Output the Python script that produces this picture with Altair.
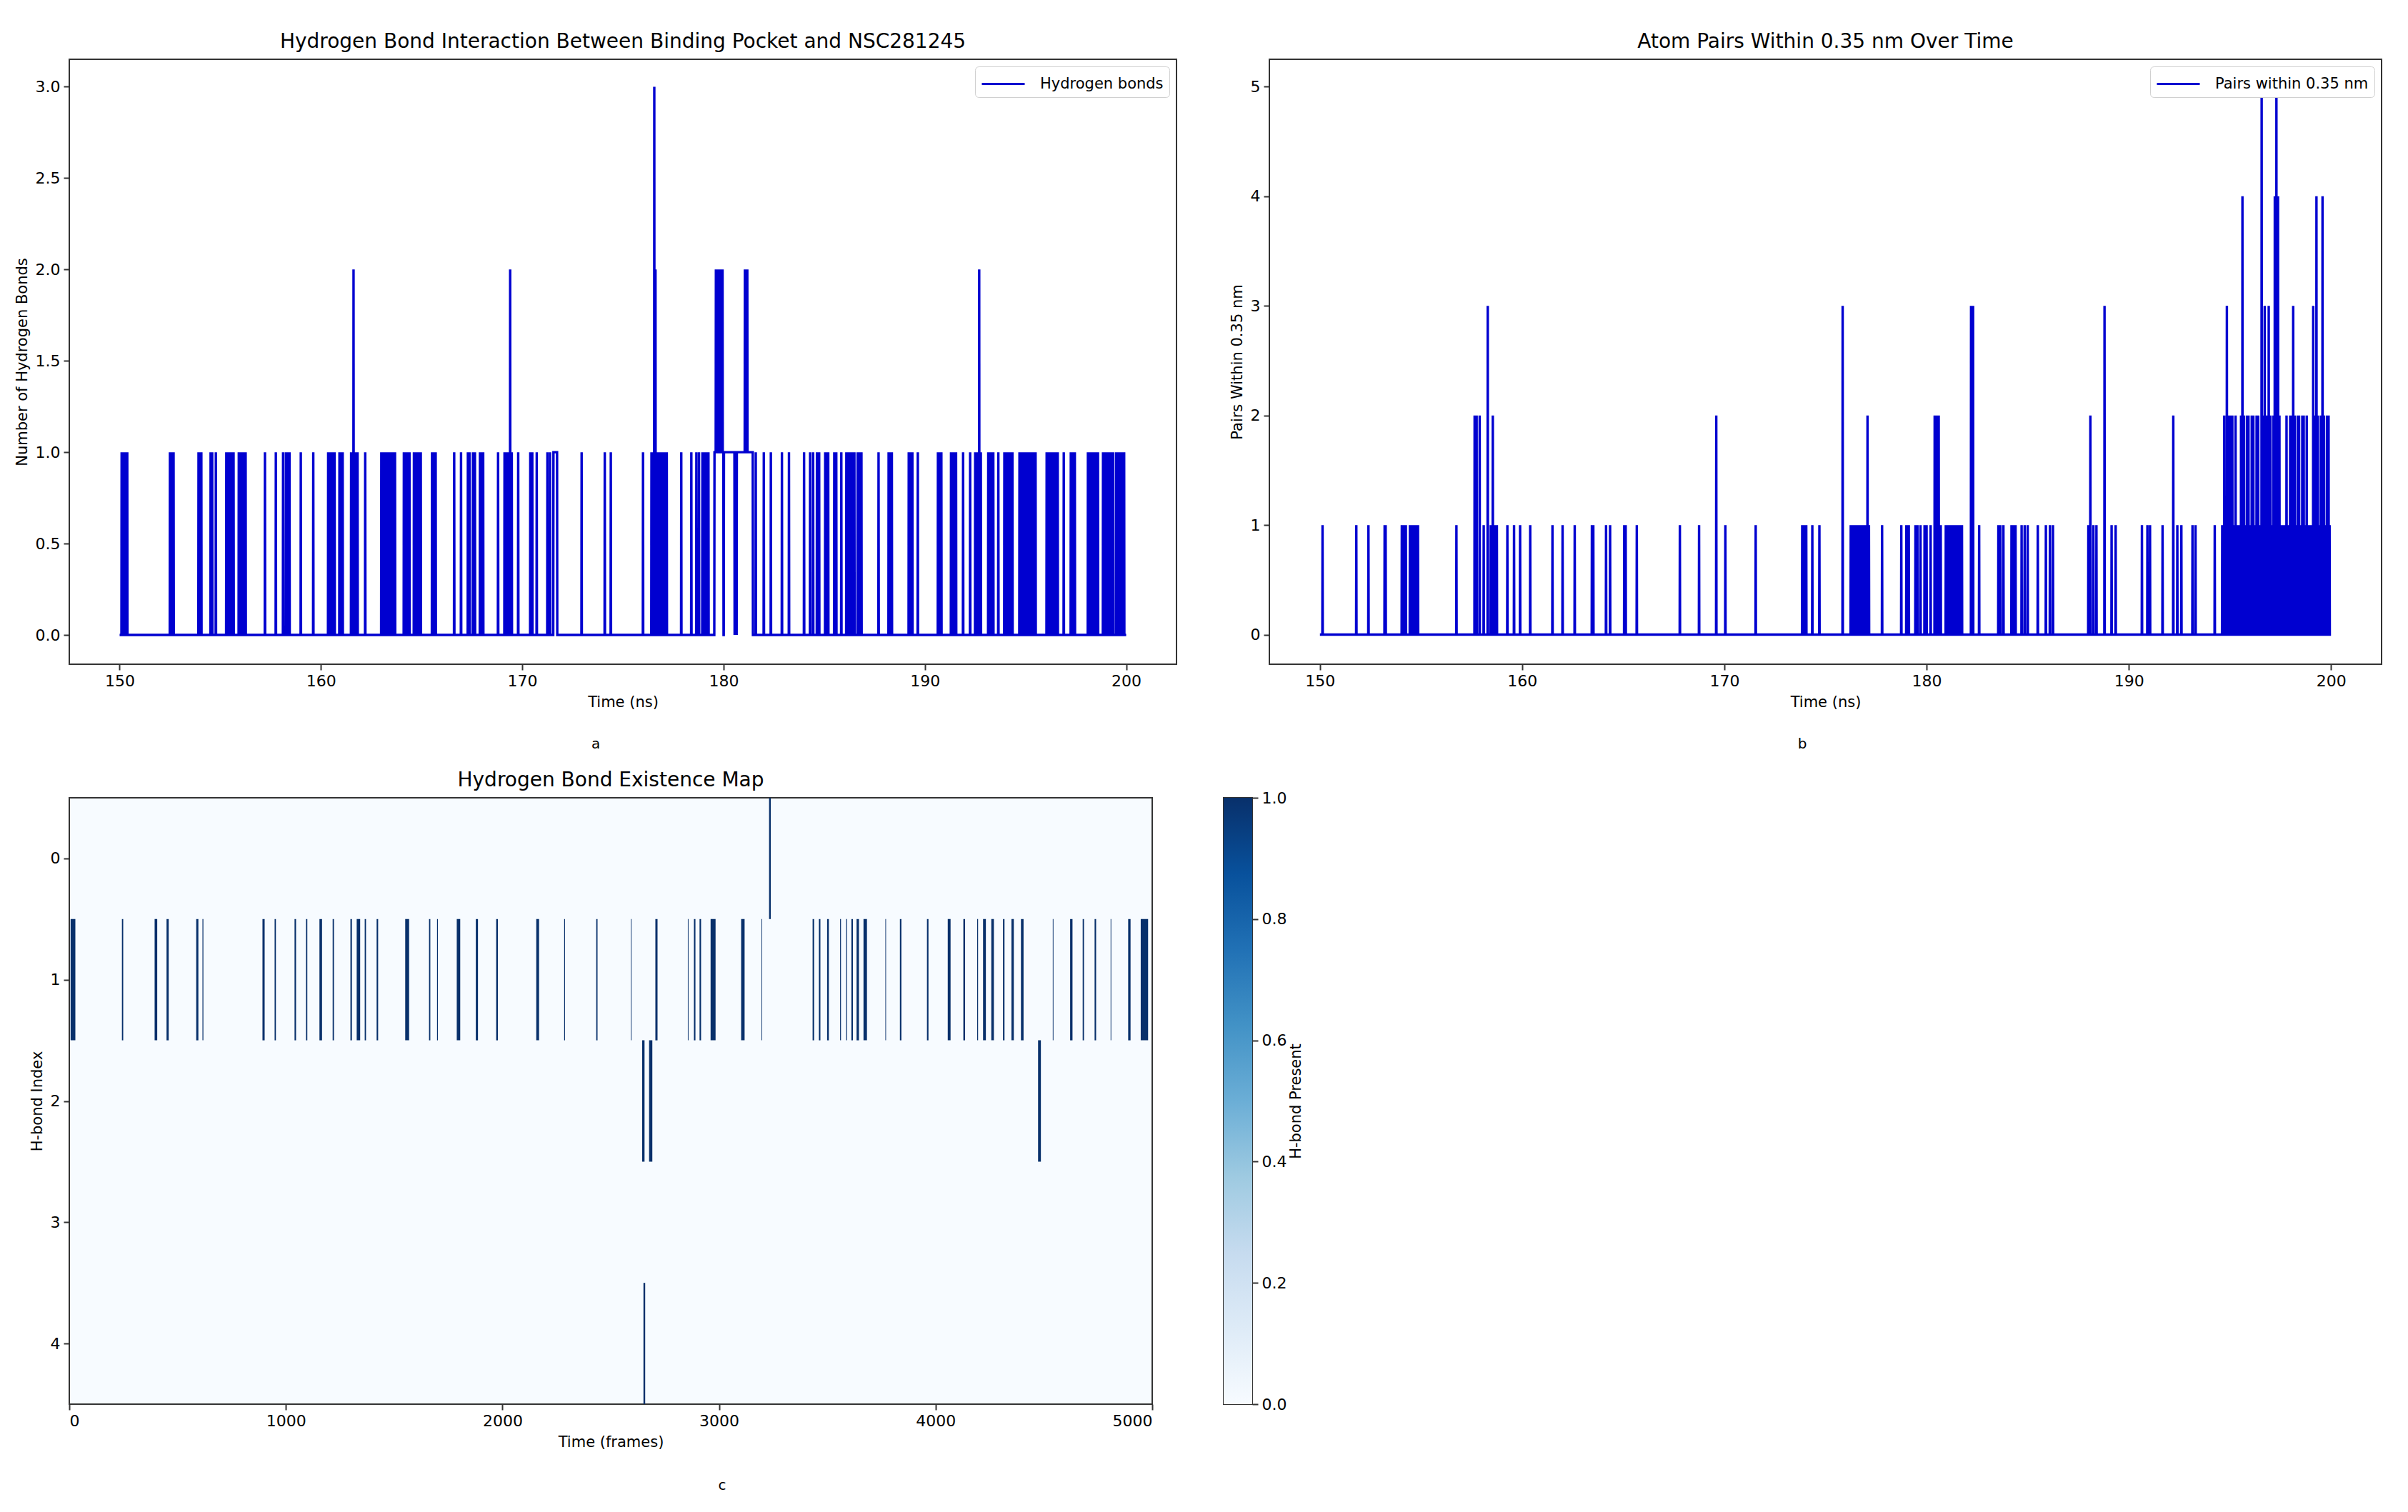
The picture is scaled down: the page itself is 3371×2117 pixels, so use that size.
import altair as alt
import numpy as np
import pandas as pd

alt.data_transformers.disable_max_rows()

FONT = "DejaVu Sans"
BLUE = "#0000d0"

# ---------------- Panel a: hydrogen bonds (ns, count) ----------------
hb_times = [
    150.10, 150.16, 150.22, 150.30, 150.38,
    152.50, 152.58, 152.68,
    153.92, 154.00, 154.06,
    154.52, 154.60, 154.78,
    155.30, 155.37, 155.44, 155.51, 155.58, 155.66,
    155.92, 156.00, 156.08, 156.18, 156.26,
    157.22, 157.76,
    158.12, 158.26, 158.34, 158.44,
    159.00, 159.62,
    160.36, 160.44, 160.52, 160.60, 160.68,
    160.92, 161.00, 161.08,
    161.50, 161.62, 161.70, 161.82,
    162.20,
    163.00, 163.10, 163.20, 163.28, 163.36, 163.44, 163.52, 163.60, 163.68,
    164.12, 164.22, 164.30, 164.40,
    164.62, 164.72, 164.84, 164.96,
    165.52, 165.60, 165.70,
    166.62, 166.96,
    167.30, 167.38, 167.55, 167.65,
    167.90, 167.98, 168.06,
    168.80,
    169.12, 169.22, 169.30, 169.40, 169.48,
    169.80,
    170.40, 170.50, 170.72,
    171.25, 171.38,
    172.95, 174.10, 174.40, 176.00,
    176.42, 176.50, 176.56, 176.62, 176.70, 176.78, 176.86, 176.94, 177.02, 177.10, 177.18,
    177.90, 178.40, 178.65, 178.78,
    178.95, 179.05, 179.15, 179.25,
    179.62, 179.66, 179.70, 179.74, 179.78, 179.82, 179.86, 179.90, 179.95,
    180.00, 180.01,
    180.55, 180.60, 180.65,
    181.06, 181.12, 181.18,
    181.60, 182.00, 182.35, 182.90, 183.25, 184.00,
    184.30, 184.45, 184.64, 184.75,
    185.05, 185.12, 185.20, 185.50, 185.60, 185.85,
    186.10, 186.18, 186.26, 186.34, 186.42, 186.50,
    186.66, 186.76, 186.85,
    187.70, 188.20, 188.28, 188.36,
    189.20, 189.28, 189.38, 189.65,
    190.65, 190.72, 190.82,
    191.30, 191.38, 191.46, 191.55,
    191.90, 192.25,
    192.50, 192.58, 192.70, 192.78,
    193.15, 193.22, 193.30, 193.40, 193.65,
    193.95, 194.05, 194.15, 194.25, 194.35,
    194.70, 194.78, 194.86, 194.94, 195.02, 195.10, 195.18, 195.26, 195.34, 195.42, 195.50,
    196.05, 196.14, 196.22, 196.30, 196.40, 196.50, 196.60,
    196.90, 197.25, 197.35, 197.45,
    198.10, 198.18, 198.26, 198.34, 198.42, 198.50, 198.60,
    198.85, 198.95, 199.05, 199.15, 199.25, 199.35,
    199.50, 199.60, 199.70, 199.80, 199.90,
]
hb_values = [
    1, 1, 1, 1, 1,
    1, 1, 1,
    1, 1, 1,
    1, 1, 1,
    1, 1, 1, 1, 1, 1,
    1, 1, 1, 1, 1,
    1, 1,
    1, 1, 1, 1,
    1, 1,
    1, 1, 1, 1, 1,
    1, 1, 1,
    1, 2, 1, 1,
    1,
    1, 1, 1, 1, 1, 1, 1, 1, 1,
    1, 1, 1, 1,
    1, 1, 1, 1,
    1, 1, 1,
    1, 1,
    1, 1, 1, 1,
    1, 1, 1,
    1,
    1, 1, 1, 2, 1,
    1,
    1, 1, 1,
    1, 1,
    1, 1, 1, 1,
    1, 1, 3, 2, 1, 1, 1, 1, 1, 1, 1,
    1, 1, 1, 1,
    1, 1, 1, 1,
    2, 2, 2, 2, 2, 2, 2, 2, 2,
    0, 0,
    0, 0, 0,
    2, 2, 2,
    1, 1, 1, 1, 1, 1,
    1, 1, 1, 1,
    1, 1, 1, 1, 1, 1,
    1, 1, 1, 1, 1, 1,
    1, 1, 1,
    1, 1, 1, 1,
    1, 1, 1, 1,
    1, 1, 1,
    1, 1, 1, 1,
    1, 1,
    1, 1, 2, 1,
    1, 1, 1, 1, 1,
    1, 1, 1, 1, 1,
    1, 1, 1, 1, 1, 1, 1, 1, 1, 1, 1,
    1, 1, 1, 1, 1, 1, 1,
    1, 1, 1, 1,
    1, 1, 1, 1, 1, 1, 1,
    1, 1, 1, 1, 1, 1,
    1, 1, 1, 1, 1,
]
# sustained plateaus (start ns, end ns, level)
hb_span_start = [171.55, 179.55]
hb_span_end = [171.73, 181.45]
hb_span_value = [1, 1]

# ---------------- Panel b: atom pairs within 0.35 nm ----------------
pair_times = [
    150.13, 151.80, 152.40, 153.20, 153.25,
    154.05, 154.15, 154.25,
    154.45, 154.55, 154.65, 154.75, 154.85,
    156.75,
    157.65, 157.75, 157.90,
    158.10, 158.30,
    158.45, 158.55, 158.65, 158.75,
    159.27, 159.60, 159.90, 160.40,
    161.50, 162.00, 162.60, 163.45, 163.52,
    164.15, 164.35,
    165.05, 165.12, 165.67,
    167.80, 168.75, 169.60, 170.05, 171.55,
    173.85, 173.95, 174.05, 174.35, 174.70,
    175.85,
    176.25, 176.35, 176.45, 176.55, 176.65, 176.75, 176.85, 176.95, 177.05, 177.08, 177.15,
    177.80,
    178.75, 179.00, 179.12,
    179.45, 179.55, 179.70, 179.90, 180.00, 180.20,
    180.40, 180.50, 180.60, 180.70,
    180.95, 181.05, 181.15, 181.25, 181.35, 181.45, 181.55, 181.65, 181.75,
    182.20, 182.30, 182.60,
    183.55, 183.65, 183.80,
    184.20, 184.30, 184.40,
    184.70, 184.85, 185.00,
    185.50, 185.90, 186.10, 186.25,
    188.00, 188.10, 188.25, 188.40, 188.80,
    189.15, 189.35,
    190.65, 190.92, 191.05, 191.67,
    192.20, 192.40, 192.60,
    193.15, 193.30, 194.25,
    194.62, 194.68, 194.72, 194.78, 194.85, 194.92, 195.00, 195.06, 195.12, 195.20,
    195.28, 195.36, 195.45, 195.55, 195.62, 195.70, 195.78, 195.85, 195.92, 196.00,
    196.08, 196.16, 196.24, 196.32, 196.40, 196.48, 196.57, 196.64, 196.72, 196.80,
    196.88, 196.92, 197.00, 197.08, 197.15, 197.22, 197.30, 197.38, 197.45, 197.52,
    197.60, 197.70, 197.80, 197.90, 197.98, 198.05, 198.13, 198.20, 198.28, 198.35,
    198.42, 198.50, 198.58, 198.65, 198.72, 198.80, 198.88, 198.95, 199.05, 199.12,
    199.20, 199.28, 199.35, 199.42, 199.50, 199.58, 199.65, 199.72, 199.80, 199.88,
    199.93,
]
pair_values = [
    1, 1, 1, 1, 1,
    1, 1, 1,
    1, 1, 1, 1, 1,
    1,
    2, 2, 2,
    1, 3,
    1, 2, 1, 1,
    1, 1, 1, 1,
    1, 1, 1, 1, 1,
    1, 1,
    1, 1, 1,
    1, 1, 2, 1, 1,
    1, 1, 1, 1, 1,
    3,
    1, 1, 1, 1, 1, 1, 1, 1, 1, 2, 1,
    1,
    1, 1, 1,
    1, 1, 1, 1, 1, 1,
    2, 2, 2, 1,
    1, 1, 1, 1, 1, 1, 1, 1, 1,
    3, 3, 1,
    1, 1, 1,
    1, 1, 1,
    1, 1, 1,
    1, 1, 1, 1,
    1, 2, 1, 1, 3,
    1, 1,
    1, 1, 1, 1,
    2, 1, 1,
    1, 1, 1,
    1, 1, 2, 1, 3, 2, 2, 1, 2, 1,
    2, 1, 1, 2, 4, 2, 1, 2, 2, 1,
    2, 2, 1, 2, 2, 1, 5, 2, 3, 2,
    1, 3, 2, 1, 2, 4, 5, 4, 2, 1,
    1, 1, 2, 1, 2, 2, 3, 2, 1, 2,
    2, 1, 2, 2, 1, 2, 1, 1, 1, 3,
    2, 4, 2, 1, 2, 4, 2, 1, 2, 2,
    1,
]

# ---------------- Panel c: H-bond existence map (frames) ----------------
hm_row0_start = [3231]
hm_row0_width = [8]
hm_row1_start = [
    6, 243, 394, 449, 586, 615, 892, 948, 1040, 1093, 1155, 1216, 1298, 1327, 1364,
    1419, 1551, 1661, 1698, 1789, 1877, 1971, 2156, 2285, 2433, 2593, 2706, 2856, 2884,
    2910, 2961, 3102, 3196, 3432, 3461, 3499, 3559, 3587, 3611, 3635, 3667, 3768, 3835,
    3960, 4056, 4128, 4192, 4219, 4257, 4311, 4350, 4394, 4541, 4621, 4679, 4734, 4808,
    4889, 4947,
]
hm_row1_width = [
    22, 6, 12, 10, 10, 4, 10, 6, 7, 6, 12, 6, 7, 16, 6,
    7, 18, 6, 4, 16, 10, 8, 13, 4, 6, 3, 10, 3, 7,
    7, 23, 16, 3, 7, 7, 8, 4, 4, 7, 11, 16, 3, 7,
    7, 13, 8, 4, 13, 12, 7, 11, 12, 3, 11, 6, 7, 3,
    11, 34,
]
hm_row2_start = [2645, 2677, 4473]
hm_row2_width = [11, 15, 13]
hm_row4_start = [2651]
hm_row4_width = [8]

assert len(hb_times) == len(hb_values)
assert len(pair_times) == len(pair_values)
assert len(hm_row1_start) == len(hm_row1_width)

T0, T1, DT = 150.0, 200.0, 0.01


def build_series(times, values, s_start, s_end, s_val, name):
    n = int(round((T1 - T0) / DT)) + 1
    t = T0 + np.arange(n) * DT
    v = np.zeros(n)

    def idx(x):
        return int(round((x - T0) / DT))

    for a, b, c in zip(s_start, s_end, s_val):
        v[idx(a):idx(b) + 1] = c
    for a, c in zip(times, values):
        v[idx(a)] = c
    return pd.DataFrame({"time": np.round(t, 3), "value": v, "series": name})


df_a = build_series(hb_times, hb_values, hb_span_start, hb_span_end, hb_span_value, "Hydrogen bonds")
df_b = build_series(pair_times, pair_values, [], [], [], "Pairs within 0.35 nm")


def line_panel(df, title, ytitle, ydomain, yvalues, yfmt, label, label_x, w, h):
    line = alt.Chart(df).mark_line(strokeWidth=3.4, interpolate="linear").encode(
        x=alt.X("time:Q",
                scale=alt.Scale(domain=[147.5, 202.5], nice=False, zero=False),
                axis=alt.Axis(values=[150, 160, 170, 180, 190, 200], title="Time (ns)")),
        y=alt.Y("value:Q",
                scale=alt.Scale(domain=ydomain, nice=False, zero=False),
                axis=alt.Axis(values=yvalues, format=yfmt, title=ytitle)),
        color=alt.Color("series:N", scale=alt.Scale(range=[BLUE]),
                        legend=alt.Legend(title=None, orient="top-right",
                                          symbolType="M-1,0H3", symbolSize=900,
                                          symbolStrokeWidth=3, symbolStrokeColor=BLUE,
                                          labelFontSize=21, labelColor="black", labelLimit=0,
                                          labelOffset=50,
                                          padding=8, offset=10, strokeColor="#d0d0d0",
                                          fillColor="white", cornerRadius=5)),
    )
    txt = alt.Chart(alt.Data(values=[{"t": label}])).mark_text(
        fontSize=20, font=FONT, color="black").encode(
        text="t:N", x=alt.value(label_x), y=alt.value(h + 112))
    return alt.layer(line, txt).properties(
        width=w, height=h,
        title=alt.TitleParams(title, fontSize=28, fontWeight="normal", offset=10))


panel_a = line_panel(df_a, "Hydrogen Bond Interaction Between Binding Pocket and NSC281245",
                     "Number of Hydrogen Bonds", [-0.16, 3.15],
                     [0, 0.5, 1.0, 1.5, 2.0, 2.5, 3.0], ".1f", "a", 737, 1550, 847)
panel_b = line_panel(df_b, "Atom Pairs Within 0.35 nm Over Time",
                     "Pairs Within 0.35 nm", [-0.27, 5.25],
                     [0, 1, 2, 3, 4, 5], "d", "b", 746, 1557, 847)

hm = pd.DataFrame({
    "row": [0] * len(hm_row0_start) + [1] * len(hm_row1_start)
           + [2] * len(hm_row2_start) + [4] * len(hm_row4_start),
    "start": hm_row0_start + hm_row1_start + hm_row2_start + hm_row4_start,
    "width": hm_row0_width + hm_row1_width + hm_row2_width + hm_row4_width,
})
hm["end"] = hm["start"] + hm["width"]
hm["top"] = hm["row"] - 0.5
hm["bot"] = hm["row"] + 0.5
hm["present"] = 1.0

HM_W, HM_H = 1516, 849
rects = alt.Chart(hm).mark_rect().encode(
    x=alt.X("start:Q", scale=alt.Scale(domain=[0, 5000], nice=False, zero=False),
            axis=alt.Axis(values=[0, 1000, 2000, 3000, 4000, 5000], format="d",
                          title="Time (frames)")),
    x2="end:Q",
    y=alt.Y("top:Q", scale=alt.Scale(domain=[-0.5, 4.5], reverse=True, nice=False, zero=False),
            axis=alt.Axis(values=[0, 1, 2, 3, 4], format="d", title="H-bond Index")),
    y2="bot:Q",
    color=alt.Color("present:Q", scale=alt.Scale(domain=[0, 1], range=["#f7fbff", "#08306b"]),
                    legend=None),
)
ctext = alt.Chart(alt.Data(values=[{"t": "c"}])).mark_text(
    fontSize=20, font=FONT, color="black").encode(
    text="t:N", x=alt.value(914), y=alt.value(HM_H + 114))
heat = alt.layer(rects, ctext).properties(
    width=HM_W, height=HM_H,
    view=alt.ViewBackground(fill="#f7fbff", stroke="#333333", strokeWidth=2),
    title=alt.TitleParams("Hydrogen Bond Existence Map", fontSize=28, fontWeight="normal", offset=10))

blues_stops = ["#f7fbff", "#deebf7", "#c6dbef", "#9ecae1", "#6baed6",
               "#4292c6", "#2171b5", "#08519c", "#08306b"]
grad = alt.Gradient(
    gradient="linear",
    stops=[alt.GradientStop(color=c, offset=i / (len(blues_stops) - 1)) for i, c in enumerate(blues_stops)],
    x1=0, x2=0, y1=1, y2=0)
cbar = alt.Chart(pd.DataFrame({"lo": [0.0], "hi": [1.0]})).mark_rect(fill=grad).encode(
    x=alt.value(0), x2=alt.value(40),
    y=alt.Y("lo:Q", scale=alt.Scale(domain=[0, 1], nice=False, zero=False),
            axis=alt.Axis(orient="right", values=[0, 0.2, 0.4, 0.6, 0.8, 1.0], format=".1f",
                          title="H-bond Present", titleAngle=270, titlePadding=24)),
    y2="hi:Q",
).properties(width=40, height=HM_H)

top = alt.hconcat(panel_a, panel_b, spacing=72).resolve_scale(color="independent")
bottom = alt.hconcat(heat, cbar, spacing=97)
chart = alt.vconcat(top, bottom, spacing=25).resolve_scale(color="independent").properties(
    padding={"left": 11, "top": 36, "right": 5, "bottom": 5}
).configure(
    font=FONT
).configure_view(
    stroke="#333333", strokeWidth=2
).configure_axis(
    grid=False, domain=False, tickColor="#333333", tickSize=8, tickWidth=2,
    labelFontSize=22, labelColor="black", labelFont=FONT,
    titleFontSize=21, titleFontWeight="normal", titleColor="black", titleFont=FONT,
    labelPadding=5, titlePadding=8
).configure_title(
    font=FONT, color="black", anchor="middle"
)

chart.save("out.html", embed_options={"renderer": "svg", "actions": False})
